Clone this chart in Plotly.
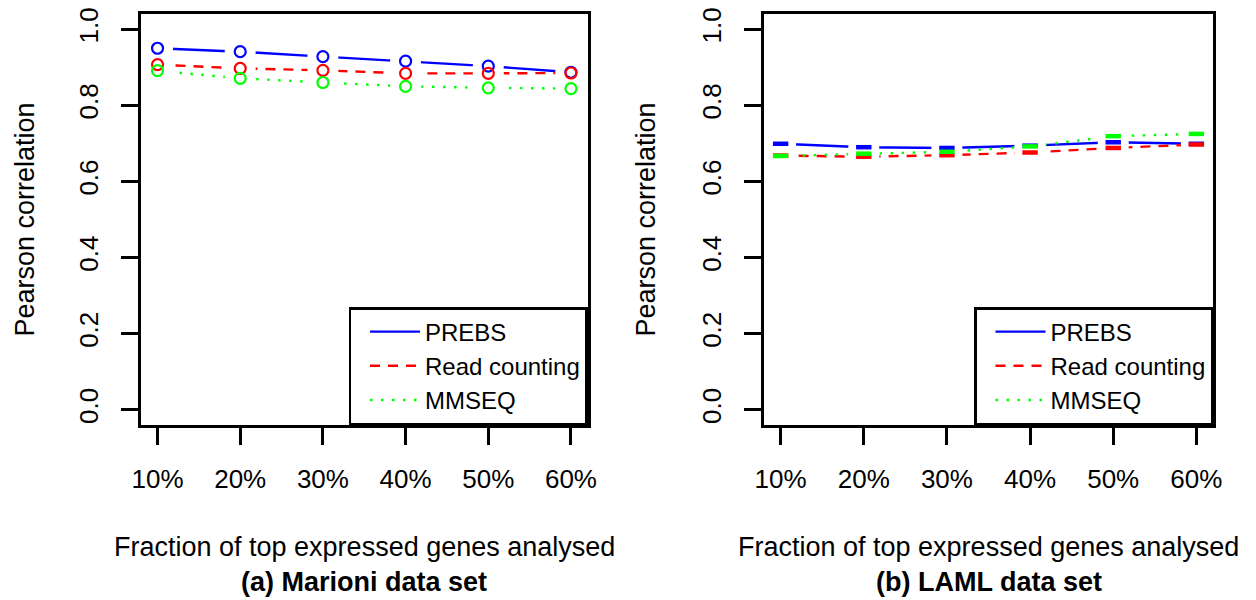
import plotly.graph_objects as go

# ---- data ----
fractions = ["10%", "20%", "30%", "40%", "50%", "60%"]
series_names = ["PREBS", "Read counting", "MMSEQ"]

marioni_prebs = [0.950, 0.941, 0.928, 0.916, 0.903, 0.887]
marioni_read = [0.907, 0.897, 0.892, 0.884, 0.884, 0.885]
marioni_mmseq = [0.891, 0.871, 0.860, 0.850, 0.846, 0.844]

laml_prebs = [0.699, 0.690, 0.688, 0.694, 0.703, 0.699]
laml_read = [0.668, 0.665, 0.669, 0.676, 0.688, 0.697]
laml_mmseq = [0.667, 0.673, 0.678, 0.692, 0.719, 0.725]

y_ticks = [0.0, 0.2, 0.4, 0.6, 0.8, 1.0]
y_ticktext = ["0.0", "0.2", "0.4", "0.6", "0.8", "1.0"]

# ---- styles ----
FONT = "Liberation Sans, Arial, Helvetica, sans-serif"
colors = ["#0000FF", "#FF0000", "#00FF00"]
dashes = ["solid", "10px,8px", "2.5px,8.5px"]

W, H = 1256, 600
panels = [
    dict(xd=(141 / W, 587.5 / W), data=[marioni_prebs, marioni_read, marioni_mmseq],
         caption="(a) Marioni data set", legend="legend", marker="circle-open", msize=11, mlw=2.2,
         ytx=24),
    dict(xd=(764 / W, 1213 / W), data=[laml_prebs, laml_read, laml_mmseq],
         caption="(b) LAML data set", legend="legend2", marker="line-ew-open", msize=11, mlw=4.5,
         ytx=645),
]
yd = (1 - 425 / H, 1 - 14 / H)

fig = go.Figure()
annotations = []
for i, p in enumerate(panels):
    xa = "x" if i == 0 else "x2"
    ya = "y" if i == 0 else "y2"
    # lines
    for name, vals, c, d in zip(series_names, p["data"], colors, dashes):
        fig.add_trace(go.Scatter(
            x=fractions, y=vals, mode="lines", name=name,
            line=dict(color=c, width=2.4, dash=d),
            xaxis=xa, yaxis=ya, legend=p["legend"], showlegend=True))
    # white gaps around points (R type="b")
    for vals in p["data"]:
        fig.add_trace(go.Scatter(
            x=fractions, y=vals, mode="markers",
            marker=dict(symbol="circle", size=31, color="white", line=dict(width=0)),
            xaxis=xa, yaxis=ya, showlegend=False, hoverinfo="skip"))
    # point symbols
    for name, vals, c in zip(series_names, p["data"], colors):
        fig.add_trace(go.Scatter(
            x=fractions, y=vals, mode="markers", name=name,
            marker=dict(symbol=p["marker"], size=p["msize"], color=c,
                        line=dict(color=c, width=p["mlw"])),
            xaxis=xa, yaxis=ya, showlegend=False))

    axis_common = dict(showline=True, mirror=True, linecolor="black", linewidth=2.5,
                       ticks="outside", tickcolor="black", tickwidth=2.5, ticklen=17,
                       showgrid=False, zeroline=False, automargin=False,
                       tickfont=dict(family=FONT, size=26, color="black"))
    fig.update_layout(**{
        ("xaxis" if i == 0 else "xaxis2"): dict(
            domain=list(p["xd"]), anchor=ya, type="category",
            categoryorder="array", categoryarray=fractions,
            range=[-0.2, 5.2], ticklabelstandoff=12, **axis_common),
        ("yaxis" if i == 0 else "yaxis2"): dict(
            domain=list(yd), anchor=xa, range=[-0.04, 1.04],
            tickvals=y_ticks, ticktext=y_ticktext, tickangle=-90,
            ticklabelstandoff=13, **axis_common),
    })
    xc = (p["xd"][0] + p["xd"][1]) / 2
    annotations += [
        dict(text="Pearson correlation", x=p["ytx"] / W, y=1 - 219.5 / H, xref="paper", yref="paper",
             textangle=-90, showarrow=False, xanchor="center", yanchor="middle",
             font=dict(family=FONT, size=27, color="black")),
        dict(text="Fraction of top expressed genes analysed", x=xc, y=1 - 546.5 / H,
             xref="paper", yref="paper", showarrow=False, xanchor="center", yanchor="middle",
             font=dict(family=FONT, size=27, color="black")),
        dict(text="<b>" + p["caption"] + "</b>", x=xc, y=1 - 581.5 / H,
             xref="paper", yref="paper", showarrow=False, xanchor="center", yanchor="middle",
             font=dict(family=FONT, size=27, color="black")),
    ]

legend_common = dict(bordercolor="black", borderwidth=2.5, bgcolor="white",
                     font=dict(family=FONT, size=24, color="black"),
                     xanchor="right", yanchor="bottom", y=yd[0], itemwidth=50,
                     indentation=14, tracegroupgap=0)
fig.update_layout(
    width=W, height=H,
    margin=dict(l=0, r=0, t=0, b=0, pad=0, autoexpand=False),
    paper_bgcolor="white", plot_bgcolor="white",
    annotations=annotations,
    legend=dict(x=panels[0]["xd"][1], **legend_common),
    legend2=dict(x=panels[1]["xd"][1], **legend_common),
    showlegend=True,
)

fig.write_html("out.html", config={"displayModeBar": False},
               post_script="document.body.style.margin='0px';")
